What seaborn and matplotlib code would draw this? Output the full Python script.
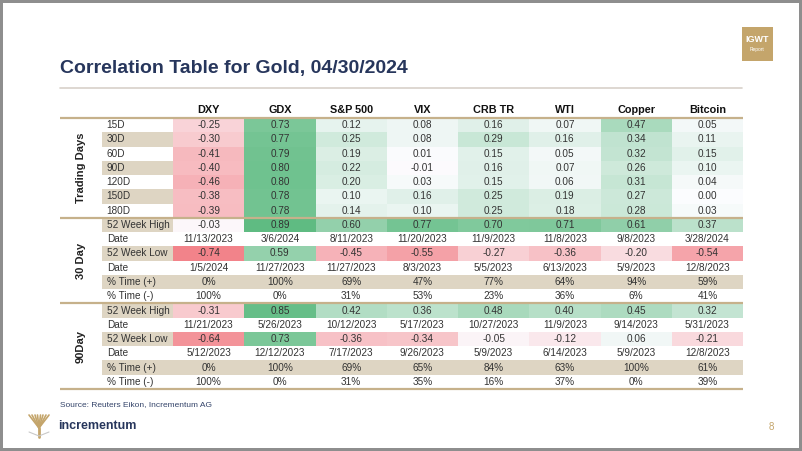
import numpy as np
import pandas as pd
import matplotlib.pyplot as plt
import seaborn as sns
from matplotlib.colors import LinearSegmentedColormap
from matplotlib.patches import Rectangle
from matplotlib.lines import Line2D

# Assets (table columns)
assets = ["DXY", "GDX", "S&P 500", "VIX", "CRB TR", "WTI", "Copper", "Bitcoin"]

# Rolling correlations over trading days
td_labels = ["15D", "30D", "60D", "90D", "120D", "150D", "180D"]
corr_15d = [-0.25, 0.73, 0.12, 0.08, 0.16, 0.07, 0.47, 0.05]
corr_30d = [-0.30, 0.77, 0.25, 0.08, 0.29, 0.16, 0.34, 0.11]
corr_60d = [-0.41, 0.79, 0.19, 0.01, 0.15, 0.05, 0.32, 0.15]
corr_90d = [-0.40, 0.80, 0.22, -0.01, 0.16, 0.07, 0.26, 0.10]
corr_120d = [-0.46, 0.80, 0.20, 0.03, 0.15, 0.06, 0.31, 0.04]
corr_150d = [-0.38, 0.78, 0.10, 0.16, 0.25, 0.19, 0.27, 0.00]
corr_180d = [-0.39, 0.78, 0.14, 0.10, 0.25, 0.18, 0.28, 0.03]

# 30 day correlation stats
high_30 = [-0.03, 0.89, 0.60, 0.77, 0.70, 0.71, 0.61, 0.37]
high_30_date = ["11/13/2023", "3/6/2024", "8/11/2023", "11/20/2023", "11/9/2023", "11/8/2023", "9/8/2023", "3/28/2024"]
low_30 = [-0.74, 0.59, -0.45, -0.55, -0.27, -0.36, -0.20, -0.54]
low_30_date = ["1/5/2024", "11/27/2023", "11/27/2023", "8/3/2023", "5/5/2023", "6/13/2023", "5/9/2023", "12/8/2023"]
pos_30 = [0, 100, 69, 47, 77, 64, 94, 59]
neg_30 = [100, 0, 31, 53, 23, 36, 6, 41]

# 90 day correlation stats
high_90 = [-0.31, 0.85, 0.42, 0.36, 0.48, 0.40, 0.45, 0.32]
high_90_date = ["11/21/2023", "5/26/2023", "10/12/2023", "5/17/2023", "10/27/2023", "11/9/2023", "9/14/2023", "5/31/2023"]
low_90 = [-0.64, 0.73, -0.36, -0.34, -0.05, -0.12, 0.06, -0.21]
low_90_date = ["5/12/2023", "12/12/2023", "7/17/2023", "9/26/2023", "5/9/2023", "6/14/2023", "5/9/2023", "12/8/2023"]
pos_90 = [0, 100, 69, 65, 84, 63, 100, 61]
neg_90 = [100, 0, 31, 35, 16, 37, 0, 39]

stat_labels = ["52 Week High", "Date", "52 Week Low", "Date", "% Time (+)", "% Time (-)"]
row_labels = td_labels + stat_labels + stat_labels

# Build the grid: numbers get colored, text rows stay NaN
nan_row = [np.nan] * len(assets)
grid = [corr_15d, corr_30d, corr_60d, corr_90d, corr_120d, corr_150d, corr_180d,
        high_30, nan_row, low_30, nan_row, nan_row, nan_row,
        high_90, nan_row, low_90, nan_row, nan_row, nan_row]
df = pd.DataFrame(grid, columns=assets)
annot = df.map(lambda v: "" if pd.isna(v) else f"{v:.2f}")

text_rows = {
    8: high_30_date, 10: low_30_date,
    11: [f"{v}%" for v in pos_30], 12: [f"{v}%" for v in neg_30],
    14: high_90_date, 16: low_90_date,
    17: [f"{v}%" for v in pos_90], 18: [f"{v}%" for v in neg_90],
}

NAVY = "#27365C"
GOLD = "#C4A56B"
BEIGE = "#DED5C3"
RULE = "#C6B18B"
TXT = "#333333"
FS = 7.2

sns.set_theme(style="white")
plt.rcParams["font.family"] = ["Liberation Sans", "DejaVu Sans"]

fig = plt.figure(figsize=(8.02, 4.51), dpi=100, linewidth=3, edgecolor="#8E8E8E")
W, H = 802, 451

# table axes: x from 60 to 743 px, y from 118 to 389 px
ax = fig.add_axes([60 / W, (H - 389) / H, 683 / W, 271 / H])

cmap = LinearSegmentedColormap.from_list("rwg", ["#EF6169", "#FCFCFF", "#55B77A"])
sns.heatmap(df, ax=ax, cmap=cmap, vmin=-0.95, vmax=0.95, cbar=False,
            annot=annot, fmt="", annot_kws=dict(size=FS, color=TXT),
            xticklabels=assets, yticklabels=False, linewidths=0)

x0 = -1.586
ax.set_xlim(x0, 8)
ax.set_ylim(19, 0)

# beige backgrounds
beige_label_rows = [1, 3, 5, 7, 9, 11, 13, 15, 17]
for r in beige_label_rows:
    ax.add_patch(Rectangle((-1, r), 1, 1, color=BEIGE, zorder=0.5, lw=0))
for r in [11, 17]:
    ax.add_patch(Rectangle((0, r), 8, 1, color=BEIGE, zorder=0.5, lw=0))

# row labels
for i, lab in enumerate(row_labels):
    ax.text(-0.93, i + 0.5, lab, ha="left", va="center", size=FS, color=TXT)

# date / percentage rows
for r, vals in text_rows.items():
    for j, s in enumerate(vals):
        ax.text(j + 0.5, r + 0.5, s, ha="center", va="center", size=FS, color=TXT)

# group labels
for y, lab in [(3.5, "Trading Days"), (10, "30 Day"), (16, "90Day")]:
    ax.text(-1.29, y, lab, rotation=90, ha="center", va="center",
            size=8, weight="bold", color="#222222")

ax.hlines([0, 7, 13, 19], x0, 8, color=RULE, lw=1.6, clip_on=False, zorder=5)

ax.xaxis.tick_top()
ax.tick_params(axis="x", length=0, pad=2.5)
for t in ax.get_xticklabels():
    t.set_fontweight("bold")
    t.set_fontsize(7.8)
    t.set_color("#111111")
    t.set_rotation(0)
ax.set_xlabel("")
ax.set_ylabel("")

# title and header
fig.text(60 / W, 1 - 68 / H, "Correlation Table for Gold, 04/30/2024", va="center",
         ha="left", size=14, weight="bold", color=NAVY)
fig.add_artist(Line2D([60 / W, 742 / W], [1 - 88 / H] * 2, color="#D8D1C9", lw=1.2))

fig.add_artist(Rectangle((742 / W, 1 - 61 / H), 31 / W, 34 / H, color=GOLD, lw=0))
fig.text(757.5 / W, 1 - 40 / H, "IGWT", ha="center", va="center", size=6.5,
         weight="bold", color="white")
fig.text(757.5 / W, 1 - 49 / H, "Report", ha="center", va="center", size=3.5, color="white")

# footer
fig.text(60 / W, 1 - 405 / H, "Source: Reuters Eikon, Incrementum AG", va="center",
         size=6, color="#34446A")
fig.text(58 / W, 1 - 426 / H, "incrementum", va="center", size=9, weight="bold", color=NAVY)
fig.text(771 / W, 1 - 427 / H, "8", va="center", ha="center", size=7, color=GOLD)

# small tree logo
cx, base = 39, 428
for dx in [-10, -7, -4, -1.5, 1.5, 4, 7, 10]:
    fig.add_artist(Line2D([cx / W, (cx + dx) / W], [1 - base / H, 1 - 415 / H],
                          color=GOLD, lw=1.2))
fig.add_artist(Line2D([cx / W, cx / W], [1 - base / H, 1 - 437 / H], color=GOLD, lw=2))
fig.add_artist(Line2D([29 / W, cx / W, 49 / W], [1 - 432 / H, 1 - 436 / H, 1 - 432 / H],
                      color="#C9C9C9", lw=0.8))

fig.savefig("out.png", dpi=100)
